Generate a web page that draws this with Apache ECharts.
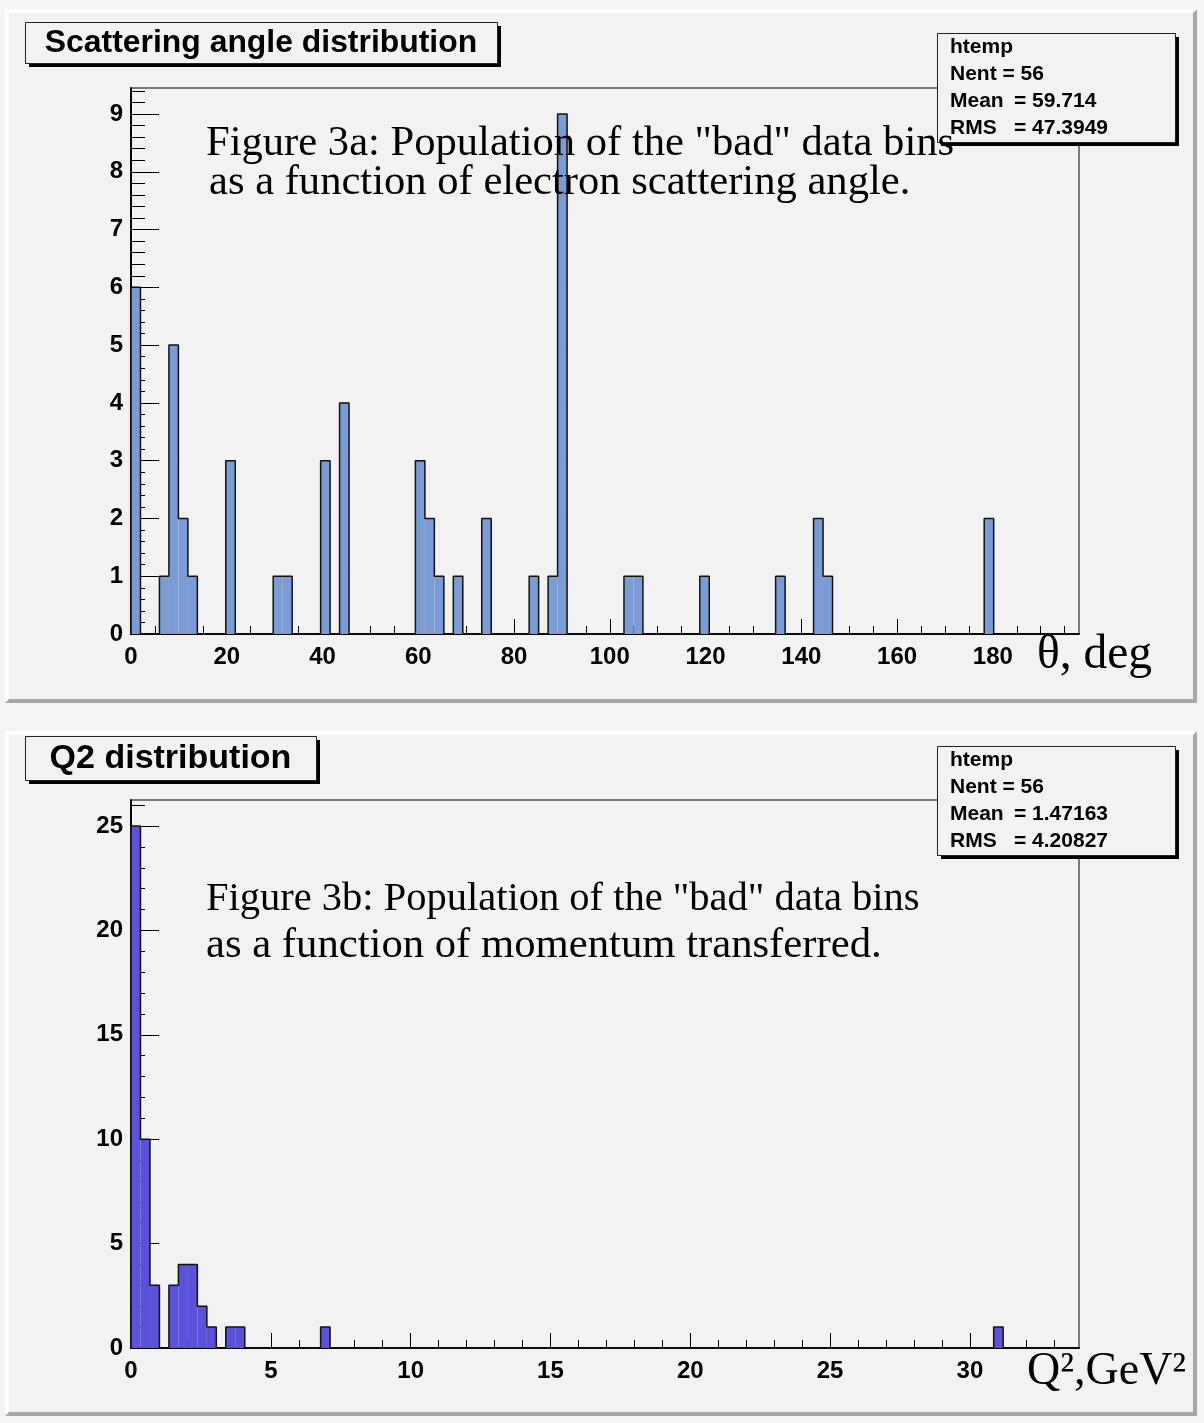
<!DOCTYPE html>
<html>
<head>
<meta charset="utf-8">
<script src="https://cdn.jsdelivr.net/npm/echarts@6/dist/echarts.min.js"></script>
<style>
  html, body { margin: 0; padding: 0; background: #f4f4f4; }
  #main { width: 1204px; height: 1423px; }
</style>
</head>
<body>
<div id="main"></div>
<script>
// ---- Scattering angle histogram (100 bins over 0..198 deg) ----
const thetaRange = [0, 198];
const thetaNBins = 100;
const thetaFilledBins   = [0, 3, 4, 5, 6, 10, 15, 16, 20, 22, 30, 31, 32, 34, 37, 42, 44, 45, 52, 53, 60, 68, 72, 73, 90];
const thetaFilledCounts = [6, 1, 5, 2, 1, 3, 1, 1, 3, 4, 3, 2, 1, 1, 2, 1, 1, 9, 1, 1, 1, 1, 2, 1, 2];
const thetaXTicks = [0, 20, 40, 60, 80, 100, 120, 140, 160, 180];
const thetaYTicks = [0, 1, 2, 3, 4, 5, 6, 7, 8, 9];
const thetaYMax = 9.45;
const thetaStats = [['htemp', ''], ['Nent = 56', ''], ['Mean', '= 59.714'], ['RMS', '= 47.3949']];

// ---- Q2 histogram (100 bins over 0..33.9 GeV^2) ----
const q2Range = [0, 33.9];
const q2NBins = 100;
const q2FilledBins   = [0, 1, 2, 4, 5, 6, 7, 8, 10, 11, 20, 91];
const q2FilledCounts = [25, 10, 3, 3, 4, 4, 2, 1, 1, 1, 1, 1];
const q2XTicks = [0, 5, 10, 15, 20, 25, 30];
const q2YTicks = [0, 5, 10, 15, 20, 25];
const q2YMax = 26.25;
const q2Stats = [['htemp', ''], ['Nent = 56', ''], ['Mean', '= 1.47163'], ['RMS', '= 4.20827']];

// minor tick positions: every `step` up to `max`, skipping the major ones
function minorTicks(step, max, majors) {
  const out = [];
  for (let k = 1; k * step <= max + 1e-9; k++) {
    const v = Math.round(k * step * 1000) / 1000;
    if (!majors.some(m => Math.abs(m - v) < 1e-6)) out.push(v);
  }
  return out;
}

// full per-bin counts from the filled-bin lists
function binCounts(nbins, bins, counts) {
  const c = new Array(nbins).fill(0);
  bins.forEach((b, i) => { c[b] = counts[i]; });
  return c;
}
function binRects(range, nbins, bins, counts) {
  const w = (range[1] - range[0]) / nbins;
  return bins.map((b, i) => [range[0] + b * w, range[0] + (b + 1) * w, counts[i]]);
}
// histogram outline drawn as a stepped contour
function contour(range, nbins, counts) {
  const w = (range[1] - range[0]) / nbins;
  const pts = [[range[0], 0]];
  for (let i = 0; i < nbins; i++) pts.push([range[0] + i * w, counts[i]]);
  pts.push([range[1], 0]);
  return pts;
}

const thetaAll = binCounts(thetaNBins, thetaFilledBins, thetaFilledCounts);
const q2All = binCounts(q2NBins, q2FilledBins, q2FilledCounts);

const SANS = '"Liberation Sans", Arial, Helvetica, sans-serif';
const SERIF = '"Liberation Serif", "Times New Roman", serif';

function xAxes(grid, range, majors, minorStep, minorMax) {
  return [
    {
      gridIndex: grid, type: 'value', position: 'bottom', min: range[0], max: range[1],
      axisLine: { show: true, onZero: false, lineStyle: { color: '#000', width: 2 } },
      axisTick: { show: true, inside: true, length: 15, customValues: majors, lineStyle: { color: '#000', width: 1 } },
      axisLabel: { show: true, customValues: majors, margin: 11, color: '#000', fontSize: 24, fontWeight: 'bold', fontFamily: SANS },
      splitLine: { show: false }
    },
    {
      gridIndex: grid, type: 'value', position: 'bottom', min: range[0], max: range[1],
      axisLine: { show: false },
      axisTick: { show: true, inside: true, length: 8, customValues: minorTicks(minorStep, minorMax, majors), lineStyle: { color: '#000', width: 1 } },
      axisLabel: { show: false },
      splitLine: { show: false }
    }
  ];
}
function yAxes(grid, max, majors, minorStep) {
  return [
    {
      gridIndex: grid, type: 'value', position: 'left', min: 0, max: max,
      axisLine: { show: true, onZero: false, lineStyle: { color: '#000', width: 2 } },
      axisTick: { show: true, inside: true, length: 28, customValues: majors, lineStyle: { color: '#000', width: 1 } },
      axisLabel: { show: true, customValues: majors, margin: 8, color: '#000', fontSize: 24, fontWeight: 'bold', fontFamily: SANS },
      splitLine: { show: false }
    },
    {
      gridIndex: grid, type: 'value', position: 'left', min: 0, max: max,
      axisLine: { show: false },
      axisTick: { show: true, inside: true, length: 14, customValues: minorTicks(minorStep, max, majors), lineStyle: { color: '#000', width: 1 } },
      axisLabel: { show: false },
      splitLine: { show: false }
    }
  ];
}

function histSeries(axisIdx, range, nbins, bins, counts, all, color) {
  return [
    {
      type: 'custom', xAxisIndex: axisIdx, yAxisIndex: axisIdx, z: 3,
      data: binRects(range, nbins, bins, counts),
      encode: { x: [0, 1], y: 2 },
      clip: true,
      renderItem: function (params, api) {
        const a = api.coord([api.value(0), api.value(2)]);
        const b = api.coord([api.value(1), 0]);
        return { type: 'rect', shape: { x: a[0], y: a[1], width: b[0] - a[0], height: b[1] - a[1] }, style: { fill: color } };
      }
    },
    {
      type: 'line', xAxisIndex: axisIdx, yAxisIndex: axisIdx, z: 4,
      data: contour(range, nbins, all), step: 'end', symbol: 'none',
      lineStyle: { color: '#111', width: 1.5 }, silent: true
    }
  ];
}

// ROOT-style bevelled pad
function pad(x0, y0, x1, y1, b) {
  return [
    { type: 'rect', z: -20, shape: { x: x0, y: y0, width: x1 - x0, height: y1 - y0 }, style: { fill: '#a8a8a8' } },
    { type: 'polygon', z: -19, shape: { points: [[x0, y0], [x1, y0], [x1 - b, y0 + b], [x0 + b, y0 + b], [x0 + b, y1 - b], [x0, y1]] }, style: { fill: '#ffffff' } },
    { type: 'rect', z: -18, shape: { x: x0 + b, y: y0 + b, width: x1 - x0 - 2 * b, height: y1 - y0 - 2 * b }, style: { fill: '#f2f2f2' } }
  ];
}
function titleBox(x, y, w, h, text, size) {
  return [
    { type: 'rect', z: 50, shape: { x: x + 4, y: y + 4, width: w, height: h }, style: { fill: '#000' } },
    { type: 'rect', z: 51, shape: { x: x + 0.5, y: y + 0.5, width: w, height: h }, style: { fill: '#f2f2f2', stroke: '#222', lineWidth: 1 } },
    { type: 'text', z: 52, x: x + w / 2, y: y + h / 2 + 1, style: { text: text, fill: '#000', font: 'bold ' + size + 'px ' + SANS, align: 'center', verticalAlign: 'middle' } }
  ];
}
function statsBox(x, y, w, h, rows) {
  const els = [
    { type: 'rect', z: 50, shape: { x: x + 4, y: y + 4, width: w, height: h }, style: { fill: '#000' } },
    { type: 'rect', z: 51, shape: { x: x + 0.5, y: y + 0.5, width: w, height: h }, style: { fill: '#f2f2f2', stroke: '#222', lineWidth: 1 } }
  ];
  rows.forEach((r, i) => {
    const cy = y + 14.5 + i * 27;
    els.push({ type: 'text', z: 52, x: x + 13, y: cy, style: { text: r[0], fill: '#000', font: 'bold 21px ' + SANS, verticalAlign: 'middle' } });
    if (r[1]) els.push({ type: 'text', z: 52, x: x + 77, y: cy, style: { text: r[1], fill: '#000', font: 'bold 21px ' + SANS, verticalAlign: 'middle' } });
  });
  return els;
}
function serifText(x, y, text, size) {
  return { type: 'text', z: 60, x: x, y: y, style: { text: text, fill: '#000', font: size + 'px ' + SERIF, verticalAlign: 'middle' } };
}

const chart = echarts.init(document.getElementById('main'), null, { renderer: 'canvas' });
chart.setOption({
  animation: false,
  backgroundColor: '#f4f4f4',
  grid: [
    { left: 131, top: 88, width: 948, height: 546, show: true, borderColor: '#000', borderWidth: 1, backgroundColor: 'transparent' },
    { left: 131, top: 800, width: 948, height: 548, show: true, borderColor: '#000', borderWidth: 1, backgroundColor: 'transparent' }
  ],
  xAxis: [].concat(
    xAxes(0, thetaRange, thetaXTicks, 5, 195),
    xAxes(1, q2Range, q2XTicks, 1, 33)
  ),
  yAxis: [].concat(
    yAxes(0, thetaYMax, thetaYTicks, 0.2),
    yAxes(1, q2YMax, q2YTicks, 1)
  ),
  series: [].concat(
    histSeries(0, thetaRange, thetaNBins, thetaFilledBins, thetaFilledCounts, thetaAll, '#7b9bd4'),
    histSeries(2, q2Range, q2NBins, q2FilledBins, q2FilledCounts, q2All, '#5a52d9')
  ),
  graphic: { elements: [].concat(
    pad(5, 9, 1197, 703, 4),
    pad(5, 731, 1197, 1416, 4),
    titleBox(25, 22, 472, 41, 'Scattering angle distribution', 31.9),
    titleBox(25, 736, 291, 44, 'Q2 distribution', 34),
    statsBox(937, 33, 238, 109, thetaStats),
    statsBox(937, 746, 238, 109, q2Stats),
    [
      serifText(206, 144, 'Figure 3a: Population of the "bad" data bins', 42.6),
      serifText(209, 183, 'as a function of electron scattering angle.', 42.6),
      serifText(206, 899, 'Figure 3b: Population of the "bad" data bins', 40.5),
      serifText(206, 946, 'as a function of momentum transferred.', 42.7),
      serifText(1037, 656, '\u03b8, deg', 47.5),
      serifText(1027, 1372, 'Q\u00b2,GeV\u00b2', 46)
    ]
  ) }
});
</script>
</body>
</html>
